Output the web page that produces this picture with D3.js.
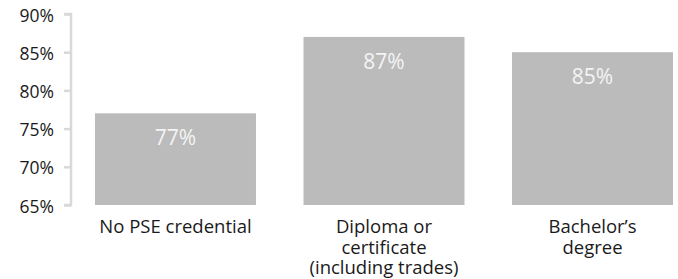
<!DOCTYPE html>
<html><head><meta charset="utf-8">
<script src="https://cdn.jsdelivr.net/npm/d3@7"></script>
<style>
body{margin:0;background:#fff;}
svg text{font-family:"Open Sans","Noto Sans",sans-serif;}
</style></head>
<body><svg id="c" width="678" height="279"></svg>
<script>
const categories = ["No PSE credential", "Diploma or\ncertificate\n(including trades)", "Bachelor’s\ndegree"];
const values = [77, 87, 85];
const tickValues = [65, 70, 75, 80, 85, 90];

const svg = d3.select("#c");
const y = d3.scaleLinear().domain([65, 90]).range([205, 14]);
const x = d3.scaleBand().domain(categories).range([95, 673]).paddingInner(0.228).paddingOuter(0);

const axis = d3.axisLeft(y).tickValues(tickValues).tickSize(7).tickPadding(10).tickFormat(d => d + "%");
const ga = svg.append("g").attr("transform", "translate(71,0)").call(axis);
ga.select(".domain").attr("stroke", "#d9d9d9").attr("stroke-width", 2.5).attr("d", "M-7,14H0V205H-7");
ga.selectAll(".tick line").attr("stroke", "#d9d9d9").attr("stroke-width", 2.5);
ga.selectAll(".tick text").attr("fill", "#1a1a1a").style("font-size", "17.5px").attr("dy", "0.4em");

svg.selectAll("rect.bar").data(values).enter().append("rect")
  .attr("class", "bar")
  .attr("x", (d, i) => x(categories[i]))
  .attr("width", x.bandwidth())
  .attr("y", d => y(d))
  .attr("height", d => y(65) - y(d))
  .attr("fill", "#bbbbbb");

svg.selectAll("text.val").data(values).enter().append("text")
  .attr("class", "val")
  .attr("x", (d, i) => x(categories[i]) + x.bandwidth() / 2)
  .attr("y", d => y(d) + 32)
  .attr("text-anchor", "middle")
  .attr("fill", "#f4f4f4")
  .style("font-size", "21px")
  .text(d => d + "%");

categories.forEach((c, i) => {
  const cx = x(c) + x.bandwidth() / 2;
  c.split("\n").forEach((line, j) => {
    svg.append("text")
      .attr("x", cx)
      .attr("y", 233 + j * 20.5)
      .attr("text-anchor", "middle")
      .attr("fill", "#1a1a1a")
      .style("font-size", "18.5px")
      .text(line);
  });
});
</script></body></html>
